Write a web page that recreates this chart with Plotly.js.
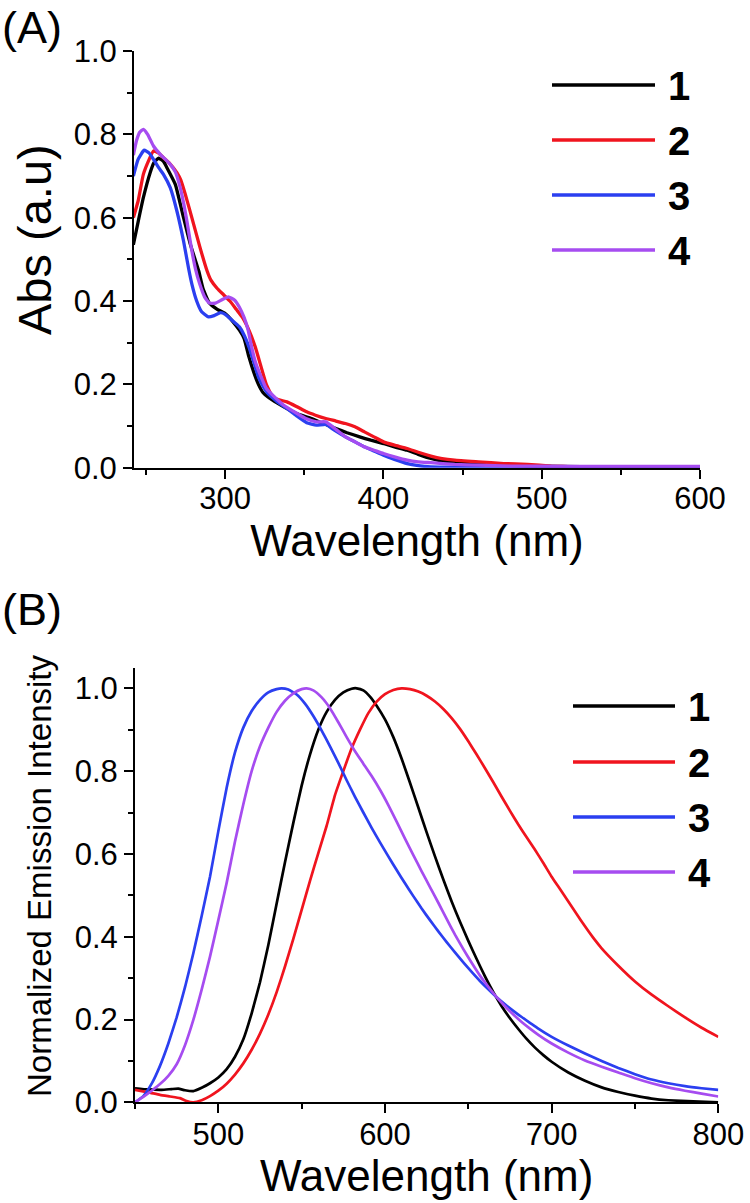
<!DOCTYPE html>
<html>
<head>
<meta charset="utf-8">
<script src="https://cdn.plot.ly/plotly-3.0.1.min.js"></script>
<style>html,body{margin:0;padding:0;background:#fff}#chart{width:750px;height:1203px}</style>
</head>
<body>
<div id="chart"></div>
<script>
// ---------- Data ----------
const seriesNames = ['1', '2', '3', '4'];
const seriesColors = ['#000000', '#f0141e', '#2b3ff0', '#a64cf0'];

// (A) absorption spectra
const absWl1 = [242,245,248.3,252.6,255,257.9,261,263.2,268.5,273.7,278,283.3,286,290,295,300,305,309,312,315,318,321,324,327,333,339,345,354.5,362,370,377,385,392,400,407,415,422,430,437,445,460,475,491,510,540,570,600];
const absY1  = [0.535,0.59,0.648,0.708,0.732,0.743,0.735,0.72,0.68,0.60,0.536,0.472,0.43,0.395,0.38,0.37,0.35,0.33,0.31,0.266,0.23,0.20,0.18,0.17,0.155,0.142,0.13,0.118,0.106,0.094,0.084,0.074,0.066,0.058,0.05,0.042,0.032,0.022,0.016,0.012,0.008,0.006,0.004,0.003,0.002,0.001,0.001];

const absWl2 = [242,245,248.3,252,254.7,258,261,265,269.5,272,274.8,277.5,280.1,284,288.6,291,295,299,303,307,311,315,319,322.7,326,330,334,339,345,351.5,357,363.6,370,376,382,388,394,400,407,415,422,430,437,445,460,476,491,506,520,560,600];
const absY2  = [0.60,0.64,0.704,0.74,0.76,0.755,0.744,0.73,0.708,0.69,0.656,0.62,0.584,0.53,0.472,0.45,0.43,0.415,0.40,0.38,0.36,0.33,0.29,0.242,0.20,0.17,0.163,0.158,0.147,0.134,0.126,0.118,0.112,0.106,0.098,0.086,0.074,0.062,0.054,0.046,0.037,0.028,0.022,0.018,0.014,0.010,0.008,0.004,0.002,0.001,0.001];

const absWl3 = [242,245,248.8,252,254.7,258,261,265.3,269.5,273.7,276.9,279,282,285,289.4,293,297,300,304,309,312,315,318,321,324,327,333,339,345,351.5,357.6,363.6,369,376,382,388,394,400,407,415,422,430,450,500,600];
const absY3  = [0.70,0.74,0.762,0.755,0.74,0.72,0.704,0.672,0.616,0.544,0.478,0.44,0.40,0.375,0.362,0.365,0.372,0.368,0.355,0.338,0.318,0.29,0.255,0.218,0.195,0.178,0.158,0.142,0.125,0.108,0.102,0.104,0.09,0.074,0.062,0.05,0.04,0.03,0.02,0.01,0.005,0.002,0.001,0.0,0.0];

const absWl4 = [242,244,246,248.3,251,254.7,259,265.3,268.5,271.6,274,275.9,278.5,281.2,284,287,290,294,298,302,306,309,312,314.5,316.7,319,322.7,326,330,337,345.5,351,357.6,363.6,370,376,382,388,394,400,407,415,422,430,445,460,480,520,560,600];
const absY4  = [0.75,0.785,0.805,0.812,0.80,0.772,0.752,0.728,0.71,0.672,0.63,0.59,0.53,0.478,0.44,0.41,0.395,0.395,0.403,0.41,0.402,0.385,0.36,0.33,0.29,0.255,0.218,0.19,0.174,0.15,0.13,0.118,0.11,0.11,0.092,0.074,0.062,0.05,0.042,0.034,0.026,0.018,0.014,0.012,0.008,0.006,0.004,0.003,0.003,0.003];

// (B) normalized emission spectra
const emWl1 = [450,458,466,472,476,480,485,490,495,500,505,510,515,520,525,530,535,540,545,550,555,560,565,570,575,580,583,587,591,595,600,605,610,615,620,625,630,635,640,645,650,655,660,665,670,675,680,685,690,695,700,710,720,730,740,750,760,770,785,800];
const emY1  = [0.034,0.031,0.030,0.032,0.033,0.029,0.027,0.035,0.046,0.060,0.080,0.110,0.152,0.215,0.290,0.380,0.480,0.580,0.675,0.765,0.840,0.900,0.943,0.972,0.990,0.999,1.0,0.995,0.980,0.958,0.925,0.882,0.830,0.772,0.712,0.652,0.594,0.538,0.485,0.436,0.390,0.346,0.304,0.266,0.232,0.203,0.177,0.153,0.132,0.114,0.098,0.072,0.052,0.036,0.025,0.016,0.009,0.005,0.002,0.0];

const emWl2 = [450,458,465,471,477,481,485,490,495,500,505,510,515,520,525,530,535,540,545,550,555,560,565,570,575,580,585,590,595,600,605,610,615,620,625,630,635,640,645,650,655,660,665,670,675,680,685,690,695,700,705,710,715,720,725,730,740,750,760,770,780,790,800];
const emY2  = [0.030,0.024,0.018,0.014,0.010,0.003,0.0,0.005,0.015,0.028,0.045,0.067,0.094,0.127,0.166,0.212,0.266,0.328,0.395,0.465,0.535,0.602,0.668,0.742,0.800,0.855,0.900,0.940,0.968,0.986,0.996,1.0,0.998,0.992,0.982,0.968,0.950,0.928,0.902,0.872,0.840,0.807,0.773,0.738,0.704,0.671,0.640,0.610,0.578,0.545,0.515,0.485,0.455,0.425,0.397,0.372,0.330,0.292,0.260,0.232,0.205,0.180,0.158];

const emWl3 = [450,455,460,465,470,475,480,485,490,495,500,505,510,515,520,525,530,535,538,542,547,552,557,562,567,572,577,582,587,592,597,602,607,612,617,622,627,632,637,642,647,652,657,662,667,672,677,682,687,692,700,710,720,730,740,750,760,770,780,790,800];
const emY3  = [0.0,0.015,0.045,0.088,0.142,0.205,0.278,0.360,0.450,0.545,0.655,0.760,0.845,0.905,0.945,0.972,0.990,0.998,1.0,0.997,0.985,0.963,0.933,0.898,0.860,0.820,0.778,0.738,0.700,0.663,0.628,0.594,0.561,0.529,0.498,0.468,0.440,0.413,0.387,0.362,0.338,0.315,0.293,0.273,0.254,0.237,0.221,0.206,0.192,0.178,0.158,0.137,0.118,0.100,0.083,0.068,0.055,0.046,0.039,0.034,0.030];

const emWl4 = [450,455,460,465,470,475,480,485,490,495,500,505,510,515,520,525,530,535,540,545,550,553,557,562,567,572,577,582,587,592,597,602,607,612,617,622,627,632,637,642,647,652,657,662,667,672,677,682,687,692,700,710,720,730,740,750,760,770,780,790,800];
const emY4  = [0.0,0.013,0.028,0.044,0.064,0.092,0.138,0.199,0.272,0.352,0.440,0.530,0.630,0.720,0.800,0.860,0.905,0.943,0.970,0.988,0.998,1.0,0.995,0.978,0.952,0.918,0.882,0.848,0.818,0.788,0.755,0.718,0.678,0.637,0.597,0.558,0.520,0.482,0.443,0.405,0.370,0.337,0.306,0.279,0.254,0.232,0.212,0.194,0.178,0.163,0.142,0.120,0.101,0.086,0.072,0.058,0.046,0.036,0.028,0.021,0.014];

// ---------- Traces ----------
const absX = [absWl1, absWl2, absWl3, absWl4];
const absYs = [absY1, absY2, absY3, absY4];
const emX = [emWl1, emWl2, emWl3, emWl4];
const emYs = [emY1, emY2, emY3, emY4];

const traces = [];
for (let i = 0; i < 4; i++) {
  traces.push({x: absX[i], y: absYs[i], xaxis: 'x', yaxis: 'y', type: 'scatter', mode: 'lines',
    name: seriesNames[i], showlegend: false,
    line: {color: seriesColors[i], width: 3.3, shape: 'spline', smoothing: 0.4}});
}
for (let i = 0; i < 4; i++) {
  traces.push({x: emX[i], y: emYs[i], xaxis: 'x2', yaxis: 'y2', type: 'scatter', mode: 'lines',
    name: seriesNames[i], showlegend: false,
    line: {color: seriesColors[i], width: 2.7, shape: 'spline', smoothing: 0.4}});
}

// ---------- Layout ----------
const W = 750, H = 1203;
const FONT = 'Liberation Sans, Arial, Helvetica, sans-serif';
const px = v => v / W;
const py = v => 1 - v / H;

function axisBase(extra) {
  return Object.assign({
    showline: true, linecolor: '#000', linewidth: 2,
    ticks: 'outside', ticklen: 9, tickwidth: 2, tickcolor: '#000',
    showgrid: false, zeroline: false, automargin: false,
    tickfont: {family: FONT, size: 31, color: '#000'}
  }, extra);
}

const shapes = [];
const annotations = [];
// legends drawn as sample lines + bold labels
const legA = {x0: 552, x1: 655, ys: [85, 140, 195, 250], tx: 666};
const legB = {x0: 573, x1: 675, ys: [706, 762, 817, 872], tx: 686};
[legA, legB].forEach(L => {
  for (let i = 0; i < 4; i++) {
    shapes.push({type: 'line', xref: 'paper', yref: 'paper',
      x0: px(L.x0), x1: px(L.x1), y0: py(L.ys[i]), y1: py(L.ys[i]),
      line: {color: seriesColors[i], width: 3.3}});
    annotations.push({xref: 'paper', yref: 'paper', x: px(L.tx), y: py(L.ys[i] + 1),
      xanchor: 'left', yanchor: 'middle', showarrow: false,
      text: '<b>' + seriesNames[i] + '</b>',
      font: {family: FONT, size: 40, color: '#000'}});
  }
});
// panel labels
annotations.push({xref: 'paper', yref: 'paper', x: px(0), y: py(0), xanchor: 'left', yanchor: 'top',
  showarrow: false, text: '(A)', font: {family: FONT, size: 45, color: '#000'}});
annotations.push({xref: 'paper', yref: 'paper', x: px(0), y: py(582), xanchor: 'left', yanchor: 'top',
  showarrow: false, text: '(B)', font: {family: FONT, size: 45, color: '#000'}});
// y-axis titles
annotations.push({xref: 'paper', yref: 'paper', x: px(34), y: py(240), xanchor: 'center', yanchor: 'middle',
  showarrow: false, textangle: -90, text: 'Abs (a.u)', font: {family: FONT, size: 47, color: '#000'}});
annotations.push({xref: 'paper', yref: 'paper', x: px(39), y: py(876), xanchor: 'center', yanchor: 'middle',
  showarrow: false, textangle: -90, text: 'Normalized Emission Intensity', font: {family: FONT, size: 33, color: '#000'}});

const layout = {
  width: W, height: H,
  margin: {l: 0, r: 0, t: 0, b: 0},
  paper_bgcolor: '#fff', plot_bgcolor: '#fff',
  font: {family: FONT, color: '#000'},
  showlegend: false,
  xaxis: axisBase({
    domain: [px(134), px(700)], range: [242.4, 600], anchor: 'y',
    tick0: 300, dtick: 100, ticklabelstandoff: -7,
    minor: {ticks: 'outside', ticklen: 5, tickwidth: 2, tickcolor: '#000', tick0: 250, dtick: 50, showgrid: false},
    title: {text: 'Wavelength (nm)', font: {family: FONT, size: 44, color: '#000'}, standoff: 0}
  }),
  yaxis: axisBase({
    domain: [py(467.7), py(51)], range: [0, 1.0], anchor: 'x',
    tick0: 0, dtick: 0.2, tickformat: '.1f',
    minor: {ticks: 'outside', ticklen: 5, tickwidth: 2, tickcolor: '#000', tick0: 0, dtick: 0.1, showgrid: false}
  }),
  xaxis2: axisBase({
    domain: [px(135), px(718.3)], range: [450, 800], anchor: 'y2',
    tick0: 500, dtick: 100, ticklabelstandoff: -6,
    minor: {ticks: 'outside', ticklen: 5, tickwidth: 2, tickcolor: '#000', tick0: 450, dtick: 50, showgrid: false},
    title: {text: 'Wavelength (nm)', font: {family: FONT, size: 44, color: '#000'}, standoff: 0}
  }),
  yaxis2: axisBase({
    domain: [py(1102.3), py(667.6)], range: [0, 1.05], anchor: 'x2',
    tick0: 0, dtick: 0.2, tickformat: '.1f',
    minor: {ticks: 'outside', ticklen: 5, tickwidth: 2, tickcolor: '#000', tick0: 0, dtick: 0.1, showgrid: false}
  }),
  shapes: shapes,
  annotations: annotations
};

Plotly.newPlot('chart', traces, layout, {staticPlot: true, displayModeBar: false});
</script>
</body>
</html>
